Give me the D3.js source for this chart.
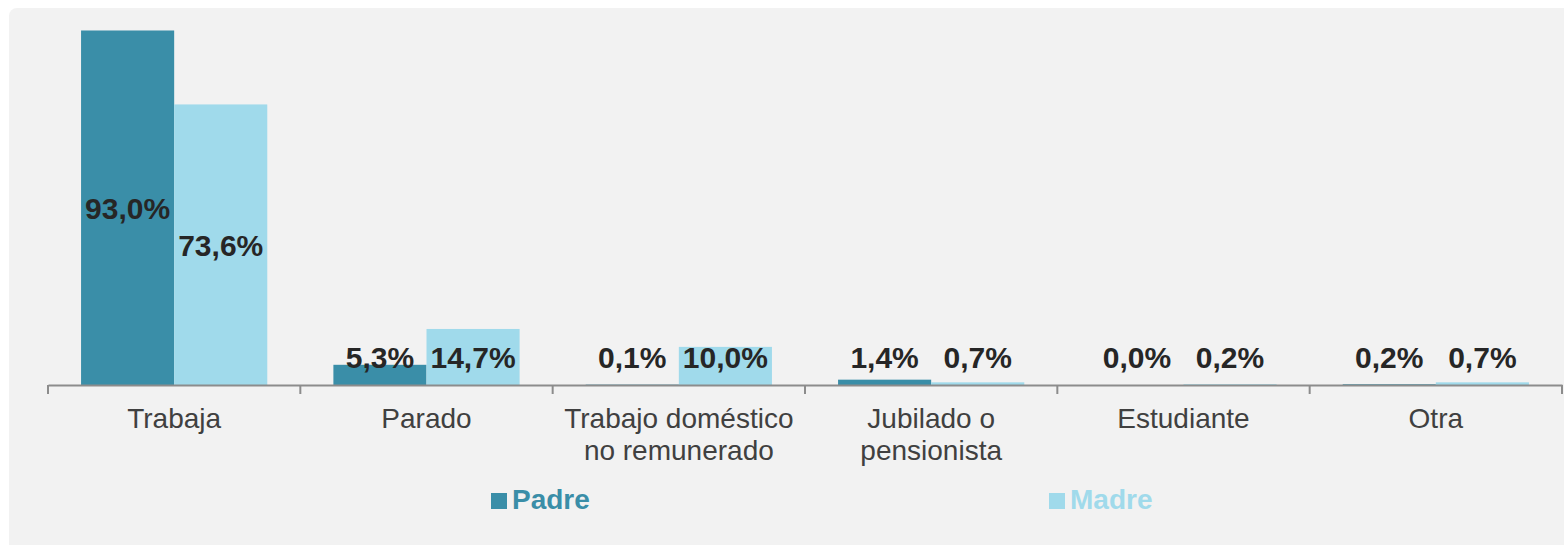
<!DOCTYPE html>
<html lang="en">
<head>
  <meta charset="UTF-8">
  <title>Padre / Madre bar chart</title>
  <script src="https://cdn.jsdelivr.net/npm/d3@7"></script>
  <style>
    html, body { margin: 0; padding: 0; background: #fff; }
    svg text { font-family: "Liberation Sans", Arial, sans-serif; }
  </style>
</head>
<body>
  <script>
    var categories = [["Trabaja"], ["Parado"], ["Trabajo doméstico", "no remunerado"],
                      ["Jubilado o", "pensionista"], ["Estudiante"], ["Otra"]];
    var series = ["Padre", "Madre"];
    var padre = [93.0, 5.3, 0.1, 1.4, 0.0, 0.2];
    var madre = [73.6, 14.7, 10.0, 0.7, 0.2, 0.7];
    var colors = ["#3a8ea8", "#a0daeb"];

    var width = 1564, height = 545,
        baseY = 385;   // axis line

    var svg = d3.select("body").append("svg")
      .attr("width", width).attr("height", height);

    // grey panel
    svg.append("rect")
      .attr("x", 9).attr("y", 8)
      .attr("width", width + 20).attr("height", height + 20)
      .attr("rx", 8)
      .attr("fill", "#f2f2f2");

    var idx = d3.range(categories.length);
    var x0 = d3.scaleBand().domain(idx).range([48, 1562]);
    var bw = x0.bandwidth();
    var x1 = d3.scaleBand().domain(series).range([bw * 0.131, bw * 0.869]);
    var y = d3.scaleLinear().domain([0, 100]).range([baseY, baseY - 381.2]);
    var color = d3.scaleOrdinal().domain(series).range(colors);

    var rows = idx.map(function(i) {
      return [{s: "Padre", v: padre[i]}, {s: "Madre", v: madre[i]}];
    });

    var grp = svg.selectAll("g.cat").data(rows).enter().append("g")
      .attr("class", "cat")
      .attr("transform", function(d, i) { return "translate(" + x0(i) + ",0)"; });

    grp.selectAll("rect").data(function(d) { return d; }).enter().append("rect")
      .attr("x", function(d) { return x1(d.s); })
      .attr("y", function(d) { return y(d.v); })
      .attr("width", x1.bandwidth())
      .attr("height", function(d) { return baseY - y(d.v); })
      .attr("fill", function(d) { return color(d.s); });

    // value labels
    grp.selectAll("text.val").data(function(d) { return d; }).enter().append("text")
      .attr("class", "val")
      .attr("x", function(d) { return x1(d.s) + x1.bandwidth() / 2; })
      .attr("y", function(d) { return Math.min((y(d.v) + baseY) / 2, 357); })
      .attr("dy", "0.36em")
      .attr("text-anchor", "middle")
      .attr("font-size", 30)
      .attr("font-weight", "bold")
      .attr("fill", "#262626")
      .text(function(d) { return d.v.toFixed(1).replace(".", ",") + "%"; });

    // axis
    var axis = d3.axisBottom(x0).tickSize(0).tickFormat("");
    var ax = svg.append("g").attr("transform", "translate(0," + baseY + ")").call(axis);
    ax.select(".domain").attr("stroke", "#8c8c8c").attr("stroke-width", 2);
    var edges = idx.map(function(i) { return x0(i); }).concat([x0(idx.length - 1) + bw]);
    ax.selectAll("line.edge").data(edges).enter().append("line")
      .attr("class", "edge")
      .attr("x1", function(d) { return d; }).attr("x2", function(d) { return d; })
      .attr("y1", 0).attr("y2", 9)
      .attr("stroke", "#8c8c8c").attr("stroke-width", 2);

    // category labels
    var cl = svg.selectAll("text.cat").data(categories).enter().append("text")
      .attr("class", "cat")
      .attr("x", function(d, i) { return x0(i) + bw / 2; })
      .attr("y", 428)
      .attr("text-anchor", "middle")
      .attr("font-size", 28)
      .attr("fill", "#404040");
    cl.selectAll("tspan").data(function(d) { return d; }).enter().append("tspan")
      .attr("x", function() { return this.parentNode.getAttribute("x"); })
      .attr("dy", function(d, i) { return i ? 32 : 0; })
      .text(function(d) { return d; });

    // legend
    var legX = [491, 1049];
    var leg = svg.selectAll("g.leg").data(series).enter().append("g")
      .attr("class", "leg")
      .attr("transform", function(d, i) { return "translate(" + legX[i] + ",493)"; });
    leg.append("rect").attr("width", 16).attr("height", 16)
      .attr("fill", function(d) { return color(d); });
    leg.append("text").attr("x", 21).attr("y", 16)
      .attr("font-size", 28).attr("font-weight", "bold")
      .attr("fill", function(d) { return color(d); })
      .text(function(d) { return d; });
  </script>
</body>
</html>
